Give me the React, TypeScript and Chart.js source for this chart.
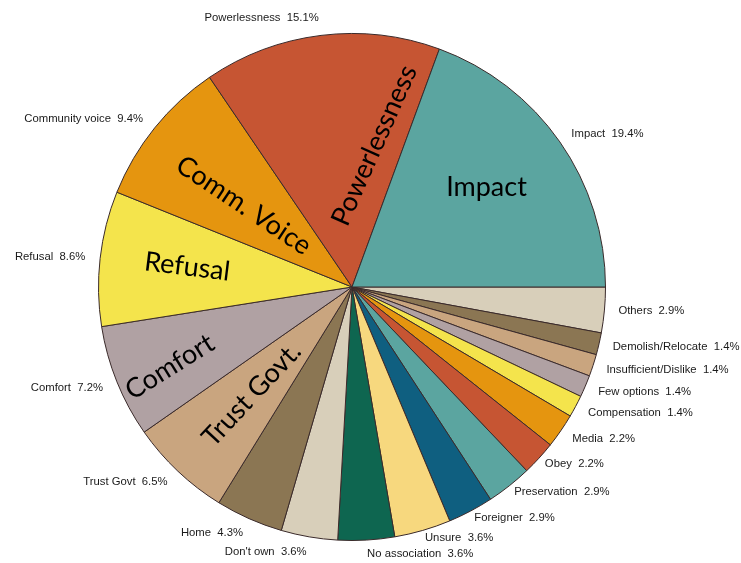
import React, { useEffect, useRef } from "react";
import { Chart, registerables } from "chart.js";

Chart.register(...registerables);

// Categories in counter-clockwise order starting at 3 o'clock
const categories = [
  "Impact",
  "Powerlessness",
  "Community voice",
  "Refusal",
  "Comfort",
  "Trust Govt",
  "Home",
  "Don't own",
  "No association",
  "Unsure",
  "Foreigner",
  "Preservation",
  "Obey",
  "Media",
  "Compensation",
  "Few options",
  "Insufficient/Dislike",
  "Demolish/Relocate",
  "Others",
];

const values = [
  19.4, 15.1, 9.4, 8.6, 7.2, 6.5, 4.3, 3.6, 3.6, 3.6, 2.9, 2.9, 2.2, 2.2, 1.4, 1.4, 1.4, 1.4, 2.9,
];

const palette = [
  "#5ba5a0", // teal
  "#c65533", // red
  "#e5950f", // orange
  "#f4e44c", // yellow
  "#b0a1a3", // mauve
  "#c9a57f", // tan
  "#8b7653", // brown
  "#d8cfba", // beige
  "#0e6650", // dark green
  "#f7d87e", // light yellow
  "#0f5f80", // dark blue
];

const innerLabels = [
  { text: "Impact", index: 0 },
  { text: "Powerlessness", index: 1 },
  { text: "Comm. Voice", index: 2 },
  { text: "Refusal", index: 3 },
  { text: "Comfort", index: 4 },
  { text: "Trust Govt.", index: 5 },
];

// placement of big inner labels: angle (deg, ccw from east), radius fraction, rotation (deg, canvas)
const innerPlacement: Record<number, { a: number; f: number; rot: number }> = {
  0: { a: 36.5, f: 0.66, rot: 0 },
  1: { a: 81, f: 0.565, rot: -66 },
  2: { a: 143, f: 0.535, rot: 33.7 },
  3: { a: 173, f: 0.655, rot: 7 },
  4: { a: 203.7, f: 0.785, rot: -32 },
  5: { a: 227, f: 0.58, rot: -47 },
};

const colors = categories.map((_, i) => palette[i % palette.length]);

// Chart.js draws clockwise, so reverse to get counter-clockwise order
const chartLabels = [...categories].reverse();
const chartValues = [...values].reverse();
const chartColors = [...colors].reverse();

const labelPlugin = {
  id: "pieLabels",
  afterDatasetsDraw(chart: any) {
    const ctx = chart.ctx;
    const meta = chart.getDatasetMeta(0);
    ctx.save();
    // outer labels
    ctx.font = '11.3px "Liberation Sans", Arial, sans-serif';
    ctx.fillStyle = "#1a1a1a";
    ctx.textBaseline = "middle";
    meta.data.forEach((arc: any, i: number) => {
      const mid = (arc.startAngle + arc.endAngle) / 2;
      const c = Math.cos(mid);
      const s = Math.sin(mid);
      const gap = c > 0.1 && s > 0.6 ? 8 : s < -0.9 ? 18 : c > 0 ? 14 : 15;
      const R = arc.outerRadius + gap;
      const x = arc.x + R * c;
      const y = arc.y + R * s;
      ctx.textAlign = c >= 0 ? "left" : "right";
      ctx.fillText(`${chartLabels[i]}  ${chartValues[i].toFixed(1)}%`, x, y);
    });
    // inner big labels
    const arc0 = meta.data[0];
    const cx = arc0.x;
    const cy = arc0.y;
    const r = arc0.outerRadius;
    ctx.font = '27px Lato, "Open Sans", sans-serif';
    ctx.fillStyle = "#000";
    ctx.textAlign = "center";
    ctx.textBaseline = "middle";
    innerLabels.forEach((lab) => {
      const p = innerPlacement[lab.index];
      const a = (p.a * Math.PI) / 180;
      const x = cx + p.f * r * Math.cos(a);
      const y = cy - p.f * r * Math.sin(a);
      ctx.save();
      ctx.translate(x, y);
      ctx.rotate((p.rot * Math.PI) / 180);
      ctx.fillText(lab.text, 0, 0);
      ctx.restore();
    });
    ctx.restore();
  },
};

export default function App() {
  const ref = useRef<HTMLCanvasElement | null>(null);
  useEffect(() => {
    document.body.style.margin = "0";
    const chart = new Chart(ref.current as HTMLCanvasElement, {
      type: "pie",
      data: {
        labels: chartLabels,
        datasets: [
          {
            data: chartValues,
            backgroundColor: chartColors,
            borderColor: "#3a2a2a",
            borderWidth: 1,
          },
        ],
      },
      options: {
        responsive: false,
        animation: false,
        rotation: 90,
        layout: { padding: { top: 33, bottom: 22, left: 80, right: 117 } },
        plugins: {
          legend: { display: false },
          tooltip: { enabled: false },
        },
      },
      plugins: [labelPlugin],
    });
    return () => chart.destroy();
  }, []);
  return (
    <div style={{ position: "absolute", left: 0, top: 0, width: 741, height: 563, background: "#fff" }}>
      <canvas ref={ref} width={741} height={563} />
    </div>
  );
}
